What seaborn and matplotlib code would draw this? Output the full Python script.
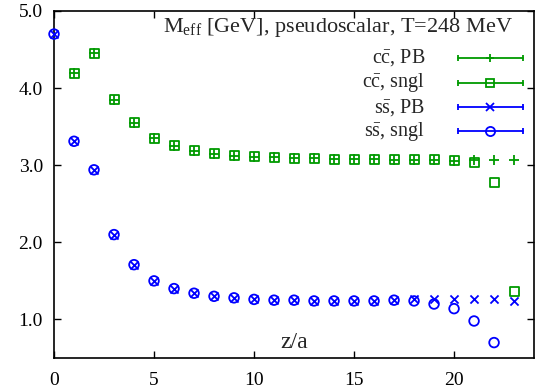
import numpy as np
import pandas as pd
import matplotlib
matplotlib.use("Agg")
import matplotlib.pyplot as plt
import seaborn as sns

# Effective masses vs. distance z/a
z_cc = list(range(1, 24))
cc_pb = [4.19, 4.45, 3.85, 3.55, 3.35, 3.25, 3.19, 3.15, 3.12, 3.11, 3.10, 3.09,
         3.09, 3.08, 3.08, 3.08, 3.07, 3.07, 3.07, 3.06, 3.07, 3.07, 3.07]
cc_sngl = [4.19, 4.45, 3.85, 3.55, 3.35, 3.25, 3.19, 3.15, 3.12, 3.11, 3.10, 3.09,
           3.09, 3.08, 3.08, 3.08, 3.07, 3.07, 3.07, 3.06, 3.03, 2.77, 1.36]
z_ss = list(range(0, 24))
ss_pb = [4.70, 3.31, 2.94, 2.10, 1.71, 1.50, 1.40, 1.34, 1.30, 1.28, 1.26, 1.25,
         1.25, 1.24, 1.24, 1.24, 1.24, 1.25, 1.26, 1.26, 1.27, 1.26, 1.26, 1.24]
z_ss_sngl = list(range(0, 23))
ss_sngl = [4.70, 3.31, 2.94, 2.10, 1.71, 1.50, 1.40, 1.34, 1.30, 1.28, 1.26, 1.25,
           1.25, 1.24, 1.24, 1.24, 1.24, 1.25, 1.24, 1.20, 1.14, 0.98, 0.70]

x_ticks = [0, 5, 10, 15, 20]
y_ticks = [1.0, 2.0, 3.0, 4.0, 5.0]

GREEN = "#009a00"
BLUE = "#0000ff"

sns.set_theme(style="ticks")
plt.rcParams["font.family"] = ["Liberation Serif", "DejaVu Serif"]
plt.rcParams["mathtext.fontset"] = "custom"
plt.rcParams["mathtext.rm"] = "Liberation Serif"
plt.rcParams["mathtext.it"] = "Liberation Serif:italic"

fig = plt.figure(figsize=(5.4, 3.9), dpi=100)
ax = fig.add_axes([0.1, 0.082, 0.889, 0.890])

series = [
    (z_cc, cc_pb, "+", GREEN, True, 45),
    (z_cc, cc_sngl, "s", GREEN, False, 42),
    (z_ss, ss_pb, "x", BLUE, True, 34),
    (z_ss_sngl, ss_sngl, "o", BLUE, False, 48),
]
for xs, ys, mk, col, filled, size in series:
    df = pd.DataFrame({"z": xs, "m": ys})
    sns.scatterplot(data=df, x="z", y="m", marker=mk, color=col, s=size,
                    linewidth=1.3, ax=ax, legend=False, clip_on=False, zorder=3)
    coll = ax.collections[-1]
    if not filled:
        coll.set_facecolor("none")
        coll.set_edgecolor(col)

ax.set_xlim(0, 24)
ax.set_ylim(0.5, 5.0)
ax.set_xticks(x_ticks)
ax.set_xticklabels([str(t) for t in x_ticks])
ax.set_yticks(y_ticks)
ax.set_yticklabels([f"{t:.1f}" for t in y_ticks])
ax.tick_params(direction="in", length=5, width=1, labelsize=14, colors="black",
               top=True, right=True)
ax.tick_params(axis="x", pad=10)
ax.tick_params(axis="y", pad=8)
for sp in ax.spines.values():
    sp.set_linewidth(1.2)
    sp.set_color("black")

ax.set_ylabel("")
ax.set_xlabel("z/a", fontsize=17)
ax.xaxis.set_label_coords(0.5, 0.045)
ax.xaxis.label.set_va("center")

ax.text(0.955, 0.951, r"M$_{\rm eff}$ [GeV], pseudoscalar, T=248 MeV",
        transform=ax.transAxes, ha="right", va="center", fontsize=16)

labels = [r"c$\bar{\rm c}$, PB", r"c$\bar{\rm c}$, sngl",
          r"s$\bar{\rm s}$, PB", r"s$\bar{\rm s}$, sngl"]
rows = [0.865, 0.793, 0.723, 0.654]
for lab, yy, (_, _, mk, col, filled, size) in zip(labels, rows, series):
    ax.text(0.773, yy, lab, transform=ax.transAxes, ha="right", va="center",
            fontsize=14.5)
    ax.plot([0.842, 0.977], [yy, yy], color=col, lw=1.3, transform=ax.transAxes,
            clip_on=False)
    ax.plot([0.842, 0.977], [yy, yy], ls="none", marker="|", ms=4, mew=1.3,
            color=col, transform=ax.transAxes, clip_on=False)
    ax.plot([0.908], [yy], ls="none", marker=mk, ms=size ** 0.5 * 0.95,
            mew=1.3, mfc=("none" if not filled else col), mec=col,
            transform=ax.transAxes, clip_on=False)

fig.savefig("out.png", dpi=100)
